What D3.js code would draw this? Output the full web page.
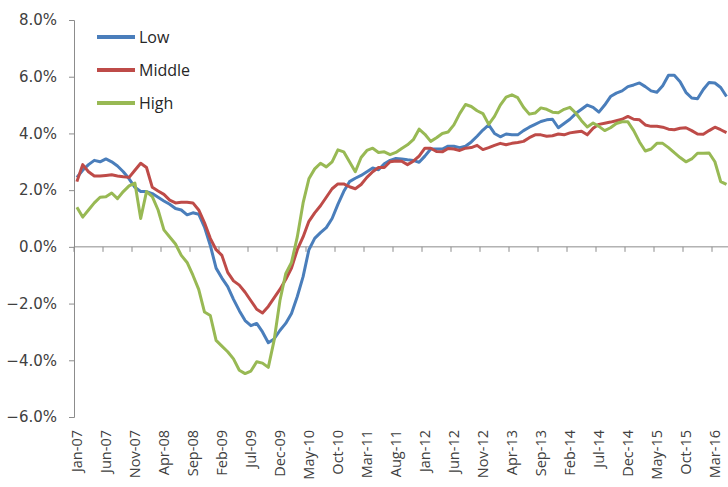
<!DOCTYPE html>
<html>
<head>
<meta charset="utf-8">
<script src="https://cdn.jsdelivr.net/npm/d3@7"></script>
<style>
  body { margin: 0; background: #fff; }
  svg { display: block; }
</style>
</head>
<body>
<svg id="chart" width="728" height="487"></svg>
<script>
// monthly series, Jan-07 .. May-16 (last points run off the right edge)
let low = [2.45, 2.7, 2.9, 3.05, 3.0, 3.1, 3.0, 2.85, 2.65, 2.4,
    2.1, 1.95, 1.95, 1.88, 1.75, 1.62, 1.5, 1.35, 1.3, 1.13,
    1.2, 1.15, 0.7, 0.05, -0.75, -1.1, -1.4, -1.85, -2.25, -2.6,
    -2.78, -2.7, -3.0, -3.38, -3.25, -2.95, -2.7, -2.35, -1.75, -1.05,
    -0.1, 0.3, 0.5, 0.68, 1.0, 1.5, 1.95, 2.3, 2.42, 2.52,
    2.65, 2.78, 2.72, 2.93, 3.05, 3.12, 3.1, 3.07, 3.05, 2.98,
    3.2, 3.45, 3.45, 3.45, 3.55, 3.55, 3.5, 3.55, 3.7, 3.9,
    4.12, 4.3, 4.0, 3.88, 3.98, 3.95, 3.95, 4.1, 4.22, 4.32,
    4.42, 4.48, 4.5, 4.2, 4.35, 4.5, 4.7, 4.85, 5.0, 4.92,
    4.75, 5.0, 5.3, 5.42, 5.5, 5.65, 5.71, 5.78, 5.65, 5.5,
    5.45, 5.68, 6.05, 6.05, 5.82, 5.45, 5.25, 5.22, 5.55, 5.8,
    5.78, 5.62, 5.3];

let middle = [2.3, 2.9, 2.65, 2.5, 2.5, 2.52, 2.54, 2.5, 2.47, 2.45,
    2.7, 2.95, 2.8, 2.1, 1.97, 1.85, 1.65, 1.55, 1.57, 1.57,
    1.55, 1.3, 0.85, 0.3, -0.1, -0.3, -0.9, -1.2, -1.35, -1.6,
    -1.9, -2.2, -2.33, -2.1, -1.8, -1.5, -1.15, -0.75, -0.1, 0.35,
    0.9, 1.2, 1.45, 1.75, 2.05, 2.22, 2.22, 2.12, 2.05, 2.2,
    2.45, 2.65, 2.8, 2.8, 3.0, 3.03, 3.02, 2.9, 3.02, 3.2,
    3.48, 3.48, 3.36, 3.35, 3.47, 3.45, 3.4, 3.48, 3.5, 3.58,
    3.43, 3.5, 3.58, 3.65, 3.6, 3.65, 3.68, 3.72, 3.85, 3.95,
    3.95, 3.9, 3.92, 3.98, 3.95, 4.02, 4.05, 4.08, 3.95, 4.18,
    4.32, 4.36, 4.4, 4.45, 4.5, 4.6, 4.5, 4.48, 4.3, 4.25,
    4.25, 4.22, 4.15, 4.13, 4.18, 4.2, 4.1, 3.98, 3.97, 4.1,
    4.22, 4.13, 4.03];

let high = [1.4, 1.05, 1.3, 1.55, 1.75, 1.77, 1.9, 1.7, 1.95, 2.15,
    2.25, 1.0, 1.95, 1.77, 1.3, 0.6, 0.35, 0.1, -0.3, -0.55,
    -1.0, -1.5, -2.3, -2.42, -3.3, -3.5, -3.7, -3.95, -4.35, -4.47,
    -4.38, -4.05, -4.1, -4.25, -3.3, -1.9, -0.95, -0.55, 0.35, 1.55,
    2.4, 2.75, 2.95, 2.82, 3.0, 3.42, 3.35, 3.0, 2.65, 3.15,
    3.4, 3.48, 3.33, 3.35, 3.25, 3.33, 3.47, 3.6, 3.78, 4.15,
    3.97, 3.72, 3.85, 4.0, 4.05, 4.3, 4.7, 5.02, 4.95, 4.8,
    4.7, 4.32, 4.6, 5.0, 5.28, 5.36, 5.26, 4.92, 4.68, 4.72,
    4.9, 4.85, 4.75, 4.73, 4.85, 4.92, 4.72, 4.45, 4.23, 4.37,
    4.25, 4.1, 4.2, 4.35, 4.41, 4.41, 4.1, 3.7, 3.38, 3.45,
    3.65, 3.65, 3.5, 3.32, 3.15, 3.0, 3.1, 3.3, 3.3, 3.31,
    3.0, 2.3, 2.2];

// every 5th month is labelled
let tickLabels = ["Jan-07", "Jun-07", "Nov-07", "Apr-08", "Sep-08", "Feb-09",
    "Jul-09", "Dec-09", "May-10", "Oct-10", "Mar-11", "Aug-11", "Jan-12",
    "Jun-12", "Nov-12", "Apr-13", "Sep-13", "Feb-14", "Jul-14", "Dec-14",
    "May-15", "Oct-15", "Mar-16"];

let yTicks = [-6, -4, -2, 0, 2, 4, 6, 8];

let series = [
    { name: "Low", values: low, color: "#4a7ebb" },
    { name: "Middle", values: middle, color: "#be4b48" },
    { name: "High", values: high, color: "#98b954" }
];

let svg = d3.select("#chart");

let left = 74,
    monthWidth = 5.8;

let x = d3.scaleBand()
    .domain(d3.range(low.length))
    .range([left, left + low.length * monthWidth]);

let y = d3.scaleLinear()
    .domain([-6, 8])
    .range([417, 20]);

let axisColor = "#8c8c8c";

// y axis
let yAxis = svg.append("g")
    .attr("transform", "translate(" + left + ",0)")
    .call(d3.axisLeft(y)
        .tickValues(yTicks)
        .tickSize(5)
        .tickPadding(12)
        .tickFormat(d => d3.format(".1f")(d) + "%"));
yAxis.select(".domain").attr("stroke", axisColor);
yAxis.selectAll(".tick line").attr("stroke", axisColor);
yAxis.selectAll(".tick text")
    .attr("fill", "#404040")
    .style("font-family", "DejaVu Sans")
    .style("font-size", "15px");

// x axis along zero
let xg = svg.append("g");
xg.append("line")
    .attr("x1", left)
    .attr("x2", 728)
    .attr("y1", y(0))
    .attr("y2", y(0))
    .attr("stroke", axisColor);

xg.selectAll(".xtick")
    .data(tickLabels)
    .enter()
    .append("line")
    .attr("x1", (d, i) => x(i * 5))
    .attr("x2", (d, i) => x(i * 5))
    .attr("y1", y(0))
    .attr("y2", y(0) + 5)
    .attr("stroke", axisColor);

xg.selectAll(".xlabel")
    .data(tickLabels)
    .enter()
    .append("text")
    .attr("transform", (d, i) => "translate(" + (x(i * 5) + x.bandwidth() / 2) + ",430) rotate(-90)")
    .attr("text-anchor", "end")
    .attr("dy", "0.35em")
    .attr("fill", "#404040")
    .style("font-family", "Open Sans")
    .style("font-size", "14.5px")
    .text(d => d);

// lines
let line = d3.line()
    .x((d, i) => x(i) + x.bandwidth() / 2)
    .y(d => y(d));

svg.append("g")
    .selectAll("path")
    .data(series)
    .enter()
    .append("path")
    .attr("d", d => line(d.values))
    .attr("fill", "none")
    .attr("stroke", d => d.color)
    .attr("stroke-width", 3)
    .attr("stroke-linejoin", "round");

// legend
let legend = svg.append("g")
    .selectAll("g")
    .data(series)
    .enter()
    .append("g")
    .attr("transform", (d, i) => "translate(97," + (37 + i * 33) + ")");

legend.append("line")
    .attr("x1", 0)
    .attr("x2", 38)
    .attr("stroke", d => d.color)
    .attr("stroke-width", 4);

legend.append("text")
    .attr("x", 42)
    .attr("dy", "0.35em")
    .attr("fill", "#262626")
    .style("font-family", "Open Sans")
    .style("font-size", "16px")
    .text(d => d.name);
</script>
</body>
</html>
